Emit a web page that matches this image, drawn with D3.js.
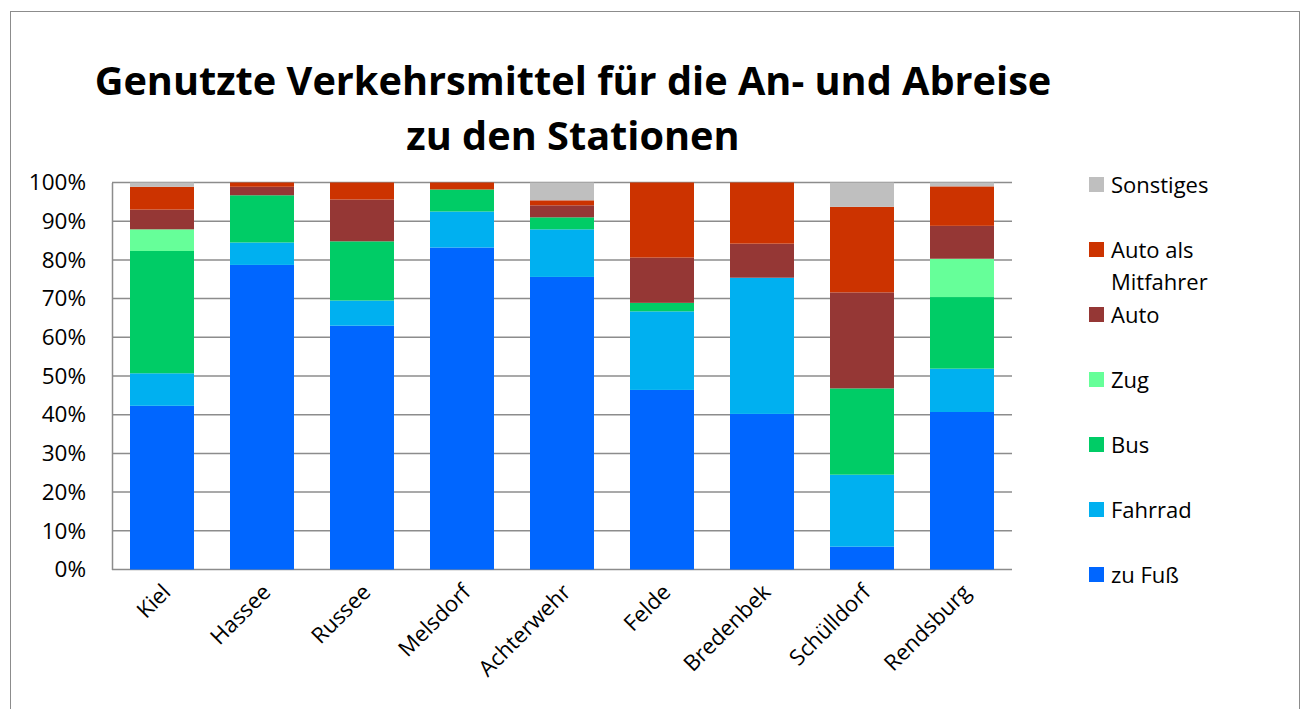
<!DOCTYPE html>
<html>
<head>
<meta charset="utf-8">
<script src="https://cdn.jsdelivr.net/npm/d3@7"></script>
<style>
  body { margin: 0; background: #fff; }
  svg { display: block; }
</style>
</head>
<body>
<div id="chart"></div>
<script>
// stations (x axis)
var stations = ['Kiel', 'Hassee', 'Russee', 'Melsdorf', 'Achterwehr', 'Felde', 'Bredenbek', 'Schülldorf', 'Rendsburg'];

// share per mode of transport, in percent
var zuFuss     = [42.3, 78.7, 63.0, 83.2, 75.6, 46.4, 40.2,  5.9, 40.7];
var fahrrad    = [ 8.4,  5.8,  6.5,  9.3, 12.3, 20.3, 35.2, 18.6, 11.2];
var bus        = [31.6, 12.2, 15.3,  5.7,  3.1,  2.2,  0.0, 22.3, 18.5];
var zug        = [ 5.6,  0.0,  0.0,  0.0,  0.0,  0.0,  0.0,  0.0,  9.9];
var auto       = [ 5.1,  2.2, 10.8,  0.0,  3.1, 11.7,  8.8, 24.8,  8.5];
var mitfahrer  = [ 5.9,  1.1,  4.4,  1.8,  1.3, 19.4, 15.8, 22.1, 10.2];
var sonstiges  = [ 1.1,  0.0,  0.0,  0.0,  4.6,  0.0,  0.0,  6.3,  1.0];

var yTicks = [0, 10, 20, 30, 40, 50, 60, 70, 80, 90, 100];

// series, bottom to top
var series = [
   { key: 'zuFuss',    name: 'zu Fuß',               values: zuFuss,    color: '#0066FF' },
   { key: 'fahrrad',   name: 'Fahrrad',              values: fahrrad,   color: '#00B0F0' },
   { key: 'bus',       name: 'Bus',                  values: bus,       color: '#00CC66' },
   { key: 'zug',       name: 'Zug',                  values: zug,       color: '#66FF99' },
   { key: 'auto',      name: 'Auto',                 values: auto,      color: '#953735' },
   { key: 'mitfahrer', name: 'Auto als|Mitfahrer',   values: mitfahrer, color: '#CC3300' },
   { key: 'sonstiges', name: 'Sonstiges',            values: sonstiges, color: '#BFBFBF' }
];

// SETTINGS
var settings = {
   width: 1307,
   height: 709,
   plot: { left: 112, right: 1012, top: 182.5, bottom: 569.5 },
   font: '"Open Sans", "DejaVu Sans", sans-serif',
   grid: '#8C8C8C'
};

// TABLE FOR THE STACK
var table = stations.map((s, i) => {
   var row = { station: s };
   series.forEach((d) => { row[d.key] = d.values[i]; });
   return row;
});

var stacked = d3.stack().keys(series.map((d) => d.key))(table);

var svg = d3.select('#chart').append('svg')
   .attr('width', settings.width)
   .attr('height', settings.height)
   .style('font-family', settings.font);

// OUTER FRAME
svg.append('rect')
   .attr('x', 10.5).attr('y', 11.5)
   .attr('width', 1289).attr('height', 720)
   .attr('fill', '#fff')
   .attr('stroke', '#8C8C8C')
   .attr('stroke-width', 1);

// SCALES
var xScale = d3.scaleBand()
   .domain(stations)
   .range([settings.plot.left, settings.plot.right])
   .paddingInner(0.36)
   .paddingOuter(0.18);

var yScale = d3.scaleLinear()
   .domain([0, 100])
   .range([settings.plot.bottom, settings.plot.top]);

// GRID
svg.append('g').selectAll('line').data(yTicks).enter()
   .append('line')
   .attr('x1', settings.plot.left)
   .attr('x2', settings.plot.right)
   .attr('y1', (d) => yScale(d))
   .attr('y2', (d) => yScale(d))
   .attr('stroke', settings.grid)
   .attr('stroke-width', 1.5);

// BARS
svg.append('g').selectAll('g').data(stacked).enter()
   .append('g')
   .attr('fill', (d, i) => series[i].color)
   .selectAll('rect').data((d) => d).enter()
   .append('rect')
   .attr('x', (d) => xScale(d.data.station))
   .attr('width', xScale.bandwidth())
   .attr('y', (d) => yScale(d[1]))
   .attr('height', (d) => Math.max(0, yScale(d[0]) - yScale(d[1])));

// Y AXIS
var yAxis = d3.axisLeft(yScale)
   .tickValues(yTicks)
   .tickFormat((d) => d + '%')
   .tickSize(0)
   .tickPadding(26);

var gy = svg.append('g')
   .attr('transform', 'translate(' + settings.plot.left + ',0)')
   .call(yAxis);
gy.select('.domain').attr('stroke', settings.grid).attr('stroke-width', 1.5);
gy.selectAll('text')
   .attr('fill', '#000')
   .style('font-size', '22.5px')
   .style('font-family', settings.font);

// X AXIS
var xAxis = d3.axisBottom(xScale).tickSize(0).tickPadding(0);
var gx = svg.append('g')
   .attr('transform', 'translate(0,' + settings.plot.bottom + ')')
   .call(xAxis);
gx.select('.domain').remove();
gx.selectAll('text')
   .attr('fill', '#000')
   .style('font-size', '22px')
   .style('font-family', settings.font)
   .attr('text-anchor', 'end')
   .attr('dy', null)
   .attr('transform', 'translate(10,24) rotate(-45)');

// TITLE
var title = svg.append('text')
   .attr('x', 573)
   .attr('text-anchor', 'middle')
   .style('font-weight', 'bold')
   .style('font-size', '40px');
title.append('tspan').attr('x', 573).attr('y', 95).text('Genutzte Verkehrsmittel für die An- und Abreise');
title.append('tspan').attr('x', 573).attr('y', 150).text('zu den Stationen');

// FIT TITLE TO THE ORIGINAL WIDTH
var w = title.select('tspan').node().getComputedTextLength();
title.style('font-size', (40 * 957 / w) + 'px');

// LEGEND
var legendY = d3.scalePoint()
   .domain(series.map((d) => d.key).reverse())
   .range([185, 575]);

var legend = svg.append('g').selectAll('g').data(series).enter()
   .append('g')
   .attr('transform', (d) => 'translate(1089,' + legendY(d.key) + ')');

legend.append('rect')
   .attr('x', 0).attr('y', -8)
   .attr('width', 15).attr('height', 15)
   .attr('fill', (d) => d.color);

legend.append('text')
   .style('font-size', '22px')
   .attr('fill', '#000')
   .selectAll('tspan').data((d) => d.name.split('|')).enter()
   .append('tspan')
   .attr('x', 22)
   .attr('y', (d, i) => 8 + i * 32)
   .text((d) => d);
</script>
</body>
</html>
